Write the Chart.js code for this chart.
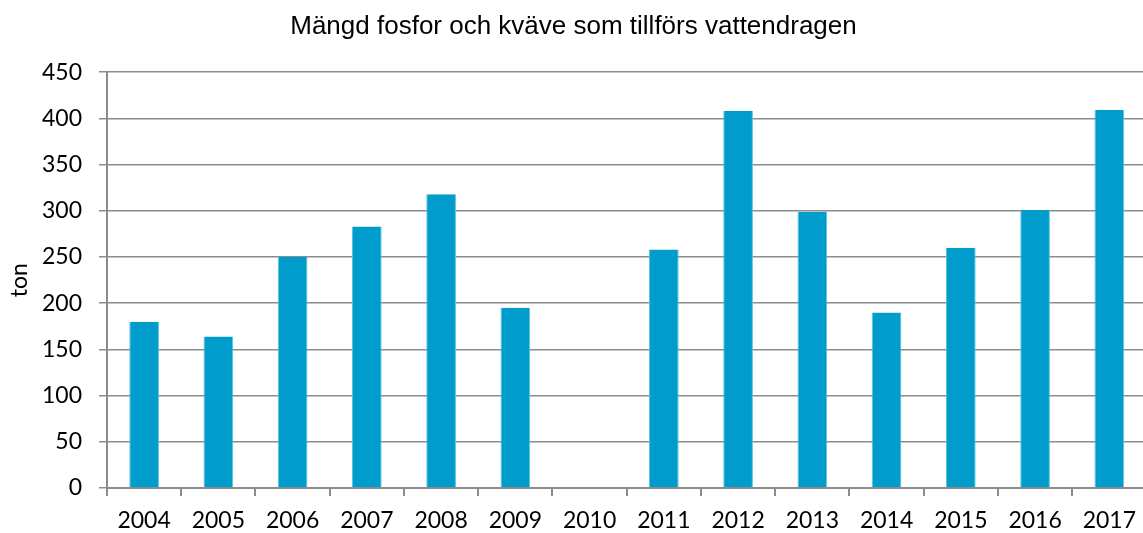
<!DOCTYPE html>
<html>
<head>
<meta charset="utf-8">
<script src="https://cdn.jsdelivr.net/npm/chart.js@4"></script>
<style>
  html, body { margin: 0; padding: 0; background: #fff; overflow: hidden; }
  #wrap { width: 1147px; height: 533px; position: relative; }
</style>
</head>
<body>
<div id="wrap"><canvas id="c"></canvas></div>
<script>
// Years and amounts (ton) of phosphorus and nitrogen
const years = ['2004','2005','2006','2007','2008','2009','2010','2011','2012','2013','2014','2015','2016','2017'];
const tons = [180, 164, 250, 283, 318, 195, null, 258, 408, 299, 190, 260, 301, 409];
const yTicks = [0, 50, 100, 150, 200, 250, 300, 350, 400, 450];
const titleText = 'Mängd fosfor och kväve som tillförs vattendragen';
const yTitleText = 'ton';

const gridGrey = '#8c8c8c';
const labelFont = { family: 'Lato', size: 23 };

new Chart(document.getElementById('c'), {
  type: 'bar',
  data: {
    labels: years,
    datasets: [{
      data: tons,
      backgroundColor: '#009dcc',
      borderColor: '#5cc3e3',
      borderWidth: { left: 1, right: 1, top: 0, bottom: 0 },
      barPercentage: 0.4,
      categoryPercentage: 1.0
    }]
  },
  options: {
    responsive: true,
    maintainAspectRatio: false,
    animation: false,
    layout: { padding: { top: 11, left: 0, right: 0, bottom: 0 } },
    plugins: {
      legend: { display: false },
      tooltip: { enabled: false },
      title: {
        display: true,
        text: titleText,
        color: '#000',
        font: { family: 'Liberation Sans', size: 26, weight: 'normal' },
        padding: { top: 0, bottom: 30 }
      }
    },
    scales: {
      x: {
        afterFit: (axis) => { axis.height = 45; },
        grid: {
          offset: true,
          drawOnChartArea: false,
          drawTicks: true,
          tickLength: 8,
          color: gridGrey,
          lineWidth: 2
        },
        border: { color: gridGrey, width: 2 },
        ticks: {
          color: '#000',
          font: labelFont,
          padding: 11,
          maxRotation: 0,
          autoSkip: false
        }
      },
      y: {
        min: 0,
        max: 450,
        afterFit: (axis) => { axis.width = 107; },
        afterBuildTicks: (axis) => { axis.ticks = yTicks.map(v => ({ value: v })); },
        grid: {
          color: gridGrey,
          lineWidth: 1.5,
          tickLength: 8,
          drawTicks: true
        },
        border: { color: gridGrey, width: 2 },
        ticks: {
          color: '#000',
          font: labelFont,
          padding: 17
        },
        title: {
          display: true,
          text: yTitleText,
          color: '#000',
          font: labelFont,
          padding: { top: 6, bottom: 8 }
        }
      }
    }
  }
});
</script>
</body>
</html>
